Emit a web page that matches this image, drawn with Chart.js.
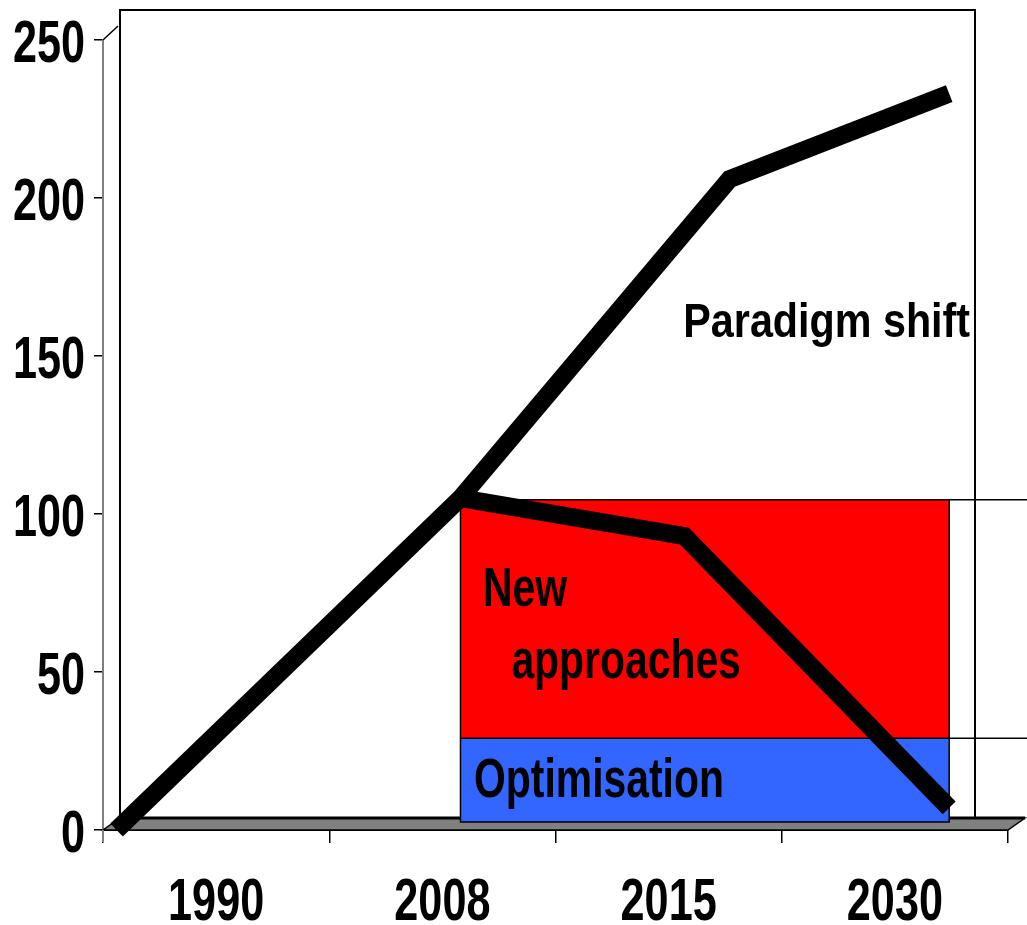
<!DOCTYPE html>
<html>
<head>
<meta charset="utf-8">
<script src="https://cdn.jsdelivr.net/npm/chart.js@4.4.1/dist/chart.umd.min.js"></script>
<style>
  html, body { margin: 0; padding: 0; background: #fff; }
  canvas { display: block; }
</style>
</head>
<body>
<canvas id="chart" width="1027" height="925"></canvas>
<script>
// categories and y ticks
const years = ['1990', '2008', '2015', '2030'];
const yTicks = [0, 50, 100, 150, 200, 250];

// positions along x are in category units (0 = 1990 ... 3 = 2030)
const growthX = [-0.44, 1.08, 2.27, 3.24];
const growthY = [0, 105, 206, 233];

const cutX = [1.08, 2.07, 3.24];
const cutY = [105, 93, 7];

// the coloured blocks: x extent and [bottom, top] values
const bandX = [1.08, 3.24];
const newApproaches = [29, 104.5];
const optimisation = [2.5, 29];

const noteText = ['Paradigm shift', 'New', 'approaches', 'Optimisation'];

const FONT = "'Liberation Sans', Arial, sans-serif";

function pts(xs, ys) {
  return xs.map((x, i) => ({ x: x, y: ys[i] }));
}
function box(xs, range) {
  return [
    { x: xs[0], y: range[1] }, { x: xs[1], y: range[1] },
    { x: xs[1], y: range[0] }, { x: xs[0], y: range[0] },
    { x: xs[0], y: range[1] }
  ];
}

// the original uses a tall narrow face, so squeeze Liberation Sans sideways
function narrowText(ctx, text, x, y, size, sx, align) {
  ctx.save();
  ctx.translate(x, y);
  ctx.scale(sx, 1);
  ctx.font = 'bold ' + size + 'px ' + FONT;
  ctx.fillStyle = '#000';
  ctx.textAlign = align;
  ctx.textBaseline = 'alphabetic';
  ctx.fillText(text, 0, 0);
  ctx.restore();
}

const backdrop = {
  id: 'backdrop',
  beforeDatasetsDraw(chart) {
    const ctx = chart.ctx, a = chart.chartArea;
    const dx = 17, dy = 12;
    ctx.save();
    // floor
    ctx.beginPath();
    ctx.moveTo(a.left, a.bottom);
    ctx.lineTo(a.right, a.bottom);
    ctx.lineTo(a.right + dx, a.bottom - dy);
    ctx.lineTo(a.left + dx, a.bottom - dy);
    ctx.closePath();
    ctx.fillStyle = '#808080';
    ctx.fill();
    ctx.strokeStyle = '#000';
    ctx.lineWidth = 1.5;
    ctx.stroke();
    // back wall
    ctx.lineWidth = 2;
    ctx.strokeRect(a.left + dx, a.top - 30, a.right - 33 - (a.left + dx), a.bottom - dy - (a.top - 30));
    ctx.lineWidth = 3;
    ctx.beginPath();
    ctx.moveTo(a.left + dx, a.bottom - dy);
    ctx.lineTo(a.right + dx, a.bottom - dy);
    ctx.stroke();
    // depth edge at top of the value axis
    ctx.lineWidth = 1.5;
    ctx.beginPath();
    ctx.moveTo(a.left, a.top);
    ctx.lineTo(a.left + dx - 2, a.top - dy - 2);
    ctx.stroke();
    // value axis runs a bit below the floor
    ctx.strokeStyle = '#808080';
    ctx.lineWidth = 2;
    ctx.beginPath();
    ctx.moveTo(a.left, a.bottom);
    ctx.lineTo(a.left, a.bottom + 12);
    ctx.stroke();
    ctx.restore();
  },
  afterDatasetsDraw(chart) {
    const ctx = chart.ctx, a = chart.chartArea;
    const xs = chart.scales.x2, ys = chart.scales.y, xc = chart.scales.x;
    ctx.save();
    // edges of the blocks running off to the right
    ctx.strokeStyle = '#000';
    ctx.lineWidth = 1.5;
    [newApproaches[1], optimisation[1]].forEach(v => {
      const py = ys.getPixelForValue(v);
      ctx.beginPath();
      ctx.moveTo(xs.getPixelForValue(bandX[1]), py);
      ctx.lineTo(chart.width, py);
      ctx.stroke();
    });
    ctx.restore();

    // notes inside the plot
    const place = [[2.065, 156, 48, 0.86], [1.18, 71, 56, 0.73], [1.305, 48, 56, 0.73], [1.14, 10.5, 56, 0.73]];
    noteText.forEach((t, i) => {
      const p = place[i];
      narrowText(ctx, t, xs.getPixelForValue(p[0]), ys.getPixelForValue(p[1]), p[2], p[3], 'left');
    });

    // axis labels, taken from the scales' own ticks
    ys.ticks.forEach(t => {
      narrowText(ctx, t.label, a.left - 18, ys.getPixelForValue(t.value) + 22, 60, 0.72, 'right');
    });
    xc.ticks.forEach((t, i) => {
      narrowText(ctx, xc.getLabelForValue(t.value), xc.getPixelForTick(i), a.bottom + 90, 60, 0.72, 'center');
    });
  }
};

new Chart(document.getElementById('chart'), {
  type: 'line',
  data: {
    labels: years,
    datasets: [
      {
        label: 'Growth',
        data: pts(growthX, growthY),
        xAxisID: 'x2',
        borderColor: '#000',
        borderWidth: 18,
        borderJoinStyle: 'miter',
        borderCapStyle: 'butt',
        pointRadius: 0,
        tension: 0,
        fill: false,
        clip: false
      },
      {
        label: 'Target',
        data: pts(cutX, cutY),
        xAxisID: 'x2',
        borderColor: '#000',
        borderWidth: 18,
        borderJoinStyle: 'miter',
        borderCapStyle: 'butt',
        pointRadius: 0,
        tension: 0,
        fill: false,
        clip: false
      },
      {
        label: 'New approaches',
        data: box(bandX, newApproaches),
        xAxisID: 'x2',
        borderColor: '#000',
        borderWidth: 1.5,
        backgroundColor: '#ff0000',
        pointRadius: 0,
        tension: 0,
        fill: 'shape',
        clip: false
      },
      {
        label: 'Optimisation',
        data: box(bandX, optimisation),
        xAxisID: 'x2',
        borderColor: '#000',
        borderWidth: 1.5,
        backgroundColor: '#3366ff',
        pointRadius: 0,
        tension: 0,
        fill: 'shape',
        clip: false
      }
    ]
  },
  options: {
    responsive: false,
    animation: false,
    layout: { padding: { top: 40, right: 19, left: 0, bottom: 0 } },
    plugins: {
      legend: { display: false },
      tooltip: { enabled: false }
    },
    scales: {
      x: {
        type: 'category',
        offset: true,
        grid: { offset: true, drawOnChartArea: false, tickLength: 13, color: '#000', lineWidth: 1.5 },
        border: { color: '#000', width: 2 },
        ticks: { display: false },
        afterFit(s) { s.height = 95; }
      },
      x2: {
        type: 'linear',
        display: false,
        min: -0.5,
        max: 3.5
      },
      y: {
        min: 0,
        max: 250,
        afterBuildTicks(s) { s.ticks = yTicks.map(v => ({ value: v })); },
        grid: { drawOnChartArea: false, tickLength: 9, color: '#000', lineWidth: 1.5 },
        border: { color: '#808080', width: 2 },
        ticks: { display: false },
        afterFit(s) { s.width = 103; }
      }
    }
  },
  plugins: [backdrop]
});
</script>
</body>
</html>
